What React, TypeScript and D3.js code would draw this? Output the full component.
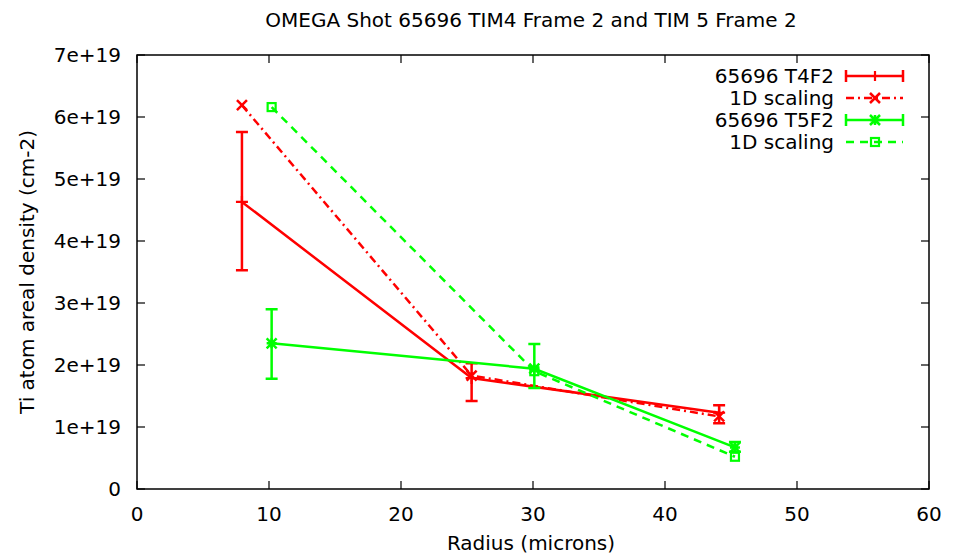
import React from "react";
import * as d3 from "d3";

const W = 957, H = 555;
const xTicks = [0, 10, 20, 30, 40, 50, 60];
const yTicks = [0, 1e19, 2e19, 3e19, 4e19, 5e19, 6e19, 7e19];
const yTickLabels = ["0", "1e+19", "2e+19", "3e+19", "4e+19", "5e+19", "6e+19", "7e+19"];

// 65696 T4F2 (measured, with error bars)
const t4x = [7.95, 25.35, 44.1];
const t4y = [4.63e19, 1.79e19, 1.23e19];
const t4lo = [3.53e19, 1.42e19, 1.06e19];
const t4hi = [5.76e19, 2.03e19, 1.35e19];
// 1D scaling for T4F2
const s4x = [7.95, 25.35, 44.1];
const s4y = [6.19e19, 1.83e19, 1.17e19];
// 65696 T5F2 (measured, with error bars)
const t5x = [10.2, 30.1, 45.3];
const t5y = [2.35e19, 1.94e19, 0.67e19];
const t5lo = [1.78e19, 1.63e19, 0.6e19];
const t5hi = [2.9e19, 2.34e19, 0.76e19];
// 1D scaling for T5F2
const s5x = [10.2, 30.1, 45.3];
const s5y = [6.16e19, 1.9e19, 0.52e19];

const RED = "#ff0000";
const GREEN = "#00ff00";
const FONT = "DejaVu Sans, sans-serif";
const FS = 20;

export default function App() {
  const x = d3.scaleLinear().domain([0, 60]).range([137, 929]);
  const y = d3.scaleLinear().domain([0, 7e19]).range([489, 55]);
  const line = d3.line<[number, number]>().x(d => x(d[0])).y(d => y(d[1]));
  const pts = (xs: number[], ys: number[]) => xs.map((v, i) => [v, ys[i]] as [number, number]);

  const plus = (cx: number, cy: number, s: number, c: string, k: string) => (
    <path key={k} d={`M${cx - s},${cy}H${cx + s}M${cx},${cy - s}V${cy + s}`} stroke={c} strokeWidth={2.2} fill="none" />
  );
  const cross = (cx: number, cy: number, s: number, c: string, k: string) => (
    <path key={k} d={`M${cx - s},${cy - s}L${cx + s},${cy + s}M${cx - s},${cy + s}L${cx + s},${cy - s}`} stroke={c} strokeWidth={2.5} fill="none" />
  );
  const star = (cx: number, cy: number, s: number, c: string, k: string) => (
    <path key={k} d={`M${cx - s},${cy}H${cx + s}M${cx},${cy - s}V${cy + s}M${cx - s},${cy - s}L${cx + s},${cy + s}M${cx - s},${cy + s}L${cx + s},${cy - s}`} stroke={c} strokeWidth={2.5} fill="none" />
  );
  const square = (cx: number, cy: number, s: number, c: string, k: string) => (
    <rect key={k} x={cx - s} y={cy - s} width={2 * s} height={2 * s} stroke={c} strokeWidth={2.2} fill="none" />
  );
  const errBar = (cx: number, lo: number, hi: number, c: string, k: string) => (
    <path key={k} d={`M${cx},${lo}V${hi}M${cx - 6},${lo}H${cx + 6}M${cx - 6},${hi}H${cx + 6}`} stroke={c} strokeWidth={2.5} fill="none" />
  );

  const legendRows = [
    { label: "65696 T4F2", color: RED, dash: undefined, marker: plus, err: true },
    { label: "1D scaling", color: RED, dash: "8,4,2,4", marker: cross, err: false },
    { label: "65696 T5F2", color: GREEN, dash: undefined, marker: star, err: true },
    { label: "1D scaling", color: GREEN, dash: "8,6", marker: square, err: false },
  ];
  const legendY = [76, 98, 120, 142];

  return (
    <svg width={W} height={H} style={{ position: "absolute", left: 0, top: 0, background: "#fff" }} fontFamily={FONT}>
      <rect x={0} y={0} width={W} height={H} fill="#fff" />
      <rect x={137} y={55} width={792} height={434} fill="none" stroke="#000" strokeWidth={1.5} />
      {yTicks.map((t, i) => (
        <g key={"yt" + i}>
          <line x1={137} x2={145} y1={y(t)} y2={y(t)} stroke="#000" strokeWidth={1.2} />
          <line x1={929} x2={921} y1={y(t)} y2={y(t)} stroke="#000" strokeWidth={1.2} />
          <text x={121} y={y(t) + 7} textAnchor="end" fontSize={FS}>{yTickLabels[i]}</text>
        </g>
      ))}
      {xTicks.map((t, i) => (
        <g key={"xt" + i}>
          <line x1={x(t)} x2={x(t)} y1={489} y2={481} stroke="#000" strokeWidth={1.2} />
          <line x1={x(t)} x2={x(t)} y1={55} y2={63} stroke="#000" strokeWidth={1.2} />
          <text x={x(t)} y={521} textAnchor="middle" fontSize={FS}>{String(t)}</text>
        </g>
      ))}
      <text x={531} y={27} textAnchor="middle" fontSize={FS}>OMEGA Shot 65696 TIM4 Frame 2 and TIM 5 Frame 2</text>
      <text x={531} y={550} textAnchor="middle" fontSize={FS}>Radius (microns)</text>
      <text transform="translate(34,272) rotate(-90)" textAnchor="middle" fontSize={FS}>Ti atom areal density (cm-2)</text>

      <path d={line(pts(t4x, t4y)) || ""} stroke={RED} strokeWidth={2.5} fill="none" />
      {t4x.map((v, i) => errBar(x(v), y(t4lo[i]), y(t4hi[i]), RED, "e4" + i))}
      {t4x.map((v, i) => plus(x(v), y(t4y[i]), 6, RED, "m4" + i))}
      <path d={line(pts(s4x, s4y)) || ""} stroke={RED} strokeWidth={2.5} fill="none" strokeDasharray="8,4,2,4" />
      {s4x.map((v, i) => cross(x(v), y(s4y[i]), 5, RED, "c4" + i))}
      <path d={line(pts(t5x, t5y)) || ""} stroke={GREEN} strokeWidth={2.5} fill="none" />
      {t5x.map((v, i) => errBar(x(v), y(t5lo[i]), y(t5hi[i]), GREEN, "e5" + i))}
      {t5x.map((v, i) => star(x(v), y(t5y[i]), 5, GREEN, "m5" + i))}
      <path d={line(pts(s5x, s5y)) || ""} stroke={GREEN} strokeWidth={2.5} fill="none" strokeDasharray="8,6" />
      {s5x.map((v, i) => square(x(v), y(s5y[i]), 4, GREEN, "s5" + i))}

      {legendRows.map((r, i) => (
        <g key={"lg" + i}>
          <text x={834} y={legendY[i] + 7} textAnchor="end" fontSize={FS}>{r.label}</text>
          <line x1={846} x2={903} y1={legendY[i]} y2={legendY[i]} stroke={r.color} strokeWidth={2.5} strokeDasharray={r.dash} />
          {r.err && <path d={`M846,${legendY[i] - 6}V${legendY[i] + 6}M903,${legendY[i] - 6}V${legendY[i] + 6}`} stroke={r.color} strokeWidth={2.5} />}
          {r.marker(875, legendY[i], r.marker === square ? 4 : 5, r.color, "lm" + i)}
        </g>
      ))}
    </svg>
  );
}
